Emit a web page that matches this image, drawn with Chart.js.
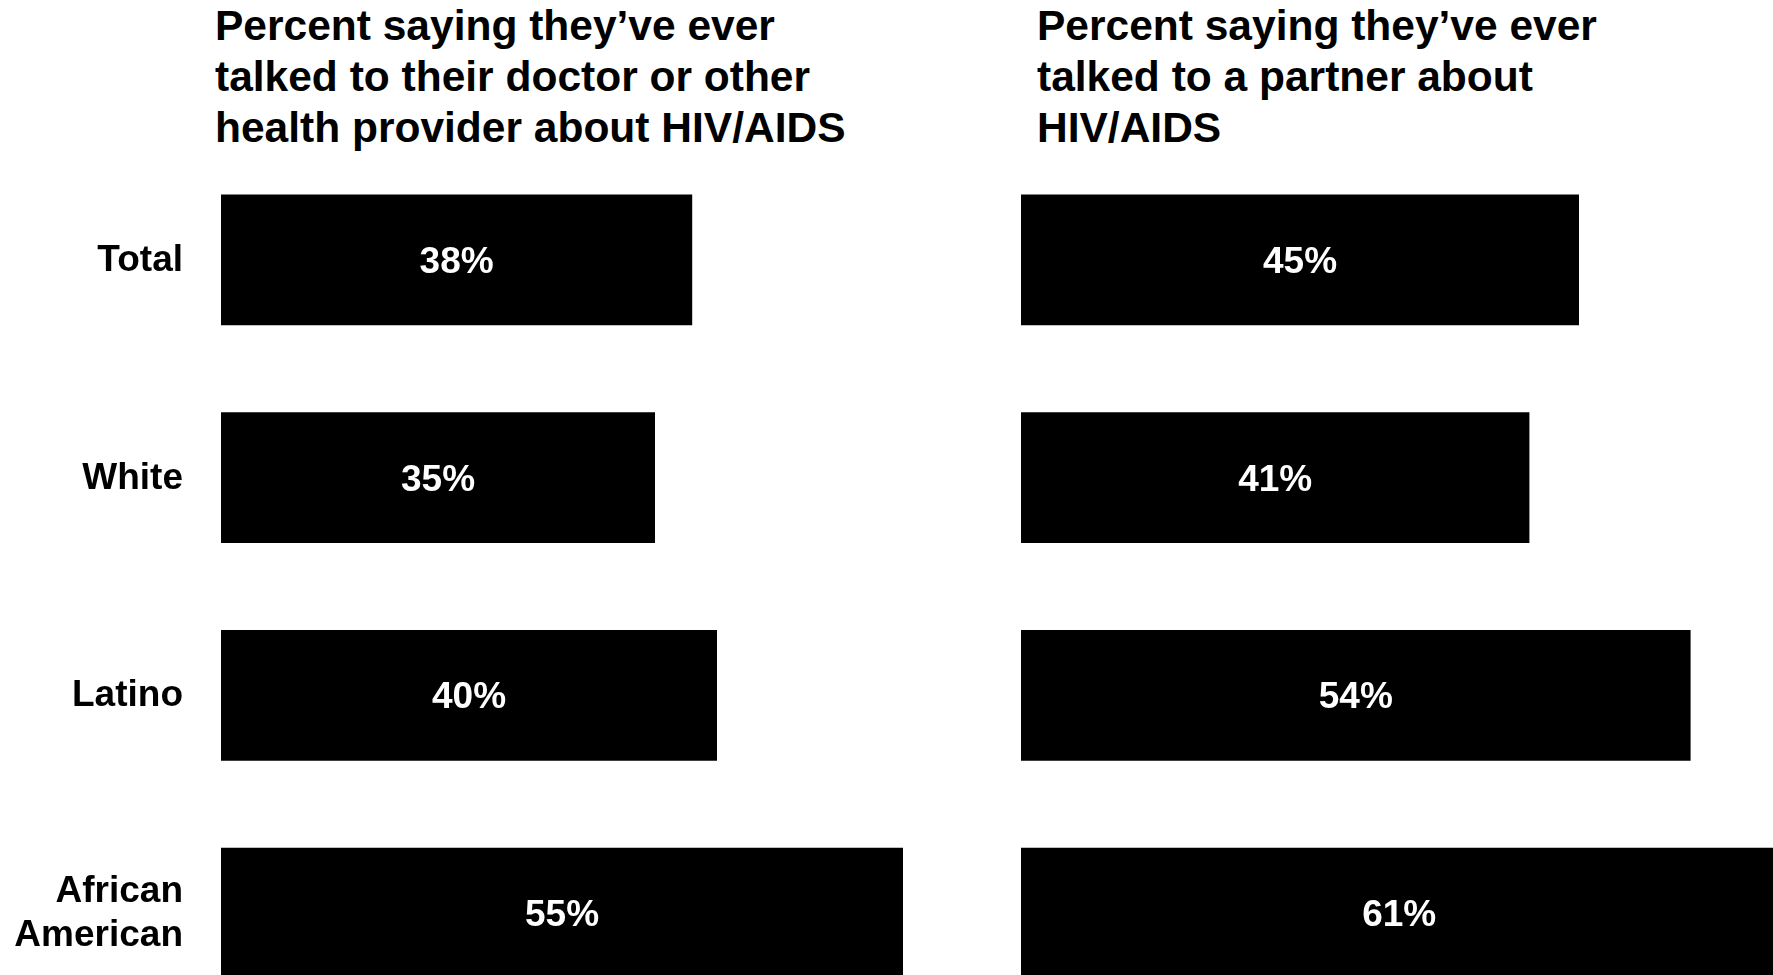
<!DOCTYPE html>
<html>
<head>
<meta charset="utf-8">
<script src="https://cdn.jsdelivr.net/npm/chart.js@4"></script>
<style>
  html, body { margin: 0; padding: 0; background: #fff; overflow: hidden; width: 1773px; height: 975px; }
  .title { position: absolute; top: 0; margin: 0; font-family: "Liberation Sans", Arial, sans-serif;
           font-weight: bold; font-size: 42.5px; line-height: 51px; color: #000; white-space: nowrap; }
  #titleLeft { left: 215px; }
  #titleRight { left: 1037px; }
  canvas { position: absolute; top: 151px; }
  #chartLeft { left: 0; }
  #chartRight { left: 1021px; }
</style>
</head>
<body>
<h2 class="title" id="titleLeft">Percent saying they’ve ever<br>talked to their doctor or other<br>health provider about HIV/AIDS</h2>
<h2 class="title" id="titleRight">Percent saying they’ve ever<br>talked to a partner about<br>HIV/AIDS</h2>
<canvas id="chartLeft" width="1089" height="871"></canvas>
<canvas id="chartRight" width="868" height="871"></canvas>
<script>
'use strict';

// groups down the side
let categories = ['Total', 'White', 'Latino', ['African', 'American']];

// percent who talked to a doctor / health provider
let doctorValues = [38, 35, 40, 55];
// percent who talked to a partner
let partnerValues = [45, 41, 54, 61];

let axisMax = 70;
let labelFont = 'bold 37px "Liberation Sans", Arial, sans-serif';

Chart.defaults.font.family = '"Liberation Sans", Arial, sans-serif';
Chart.defaults.color = '#000';

// writes the value in white in the middle of each bar
let barValueLabels = {
    id: 'barValueLabels',
    afterDatasetsDraw(chart) {
        let ctx = chart.ctx;
        let meta = chart.getDatasetMeta(0);
        let values = chart.data.datasets[0].data;
        ctx.save();
        ctx.fillStyle = '#fff';
        ctx.font = labelFont;
        ctx.textAlign = 'center';
        ctx.textBaseline = 'alphabetic';
        for (let i = 0; i < meta.data.length; i++) {
            let bar = meta.data[i];
            let x = (bar.x + bar.base) / 2;
            ctx.fillText(values[i] + '%', x, bar.y + 13);
        }
        ctx.restore();
    }
};

// category names to the left of the bars (only on the left chart)
let categoryLabels = {
    id: 'categoryLabels',
    afterDraw(chart, args, opts) {
        if (!opts.show) return;
        let ctx = chart.ctx;
        let meta = chart.getDatasetMeta(0);
        let lineGap = 43.3;
        ctx.save();
        ctx.fillStyle = '#000';
        ctx.font = labelFont;
        ctx.textAlign = 'right';
        ctx.textBaseline = 'alphabetic';
        for (let i = 0; i < meta.data.length; i++) {
            let lines = [].concat(chart.data.labels[i]);
            let y = meta.data[i].y + 11 - (lines.length - 1) * lineGap / 2;
            for (let j = 0; j < lines.length; j++) {
                ctx.fillText(lines[j], chart.chartArea.left - 38, y + j * lineGap);
            }
        }
        ctx.restore();
    }
};

function makeChart(canvasId, values, showLabels) {
    let ctx = document.getElementById(canvasId).getContext('2d');
    return new Chart(ctx, {
        type: 'bar',
        data: {
            labels: categories,
            datasets: [{
                data: values,
                backgroundColor: '#000',
                borderWidth: 0,
                barPercentage: 0.6,
                categoryPercentage: 1
            }]
        },
        options: {
            indexAxis: 'y',
            responsive: false,
            animation: false,
            layout: { padding: { left: showLabels ? 221 : 0, top: 0, right: 0, bottom: 0 } },
            plugins: {
                legend: { display: false },
                tooltip: { enabled: false },
                title: { display: false },
                categoryLabels: { show: showLabels }
            },
            scales: {
                x: {
                    display: false,
                    min: 0,
                    max: axisMax
                },
                y: {
                    display: false
                }
            }
        },
        plugins: [barValueLabels, categoryLabels]
    });
}

makeChart('chartLeft', doctorValues, true);
makeChart('chartRight', partnerValues, false);
</script>
</body>
</html>
